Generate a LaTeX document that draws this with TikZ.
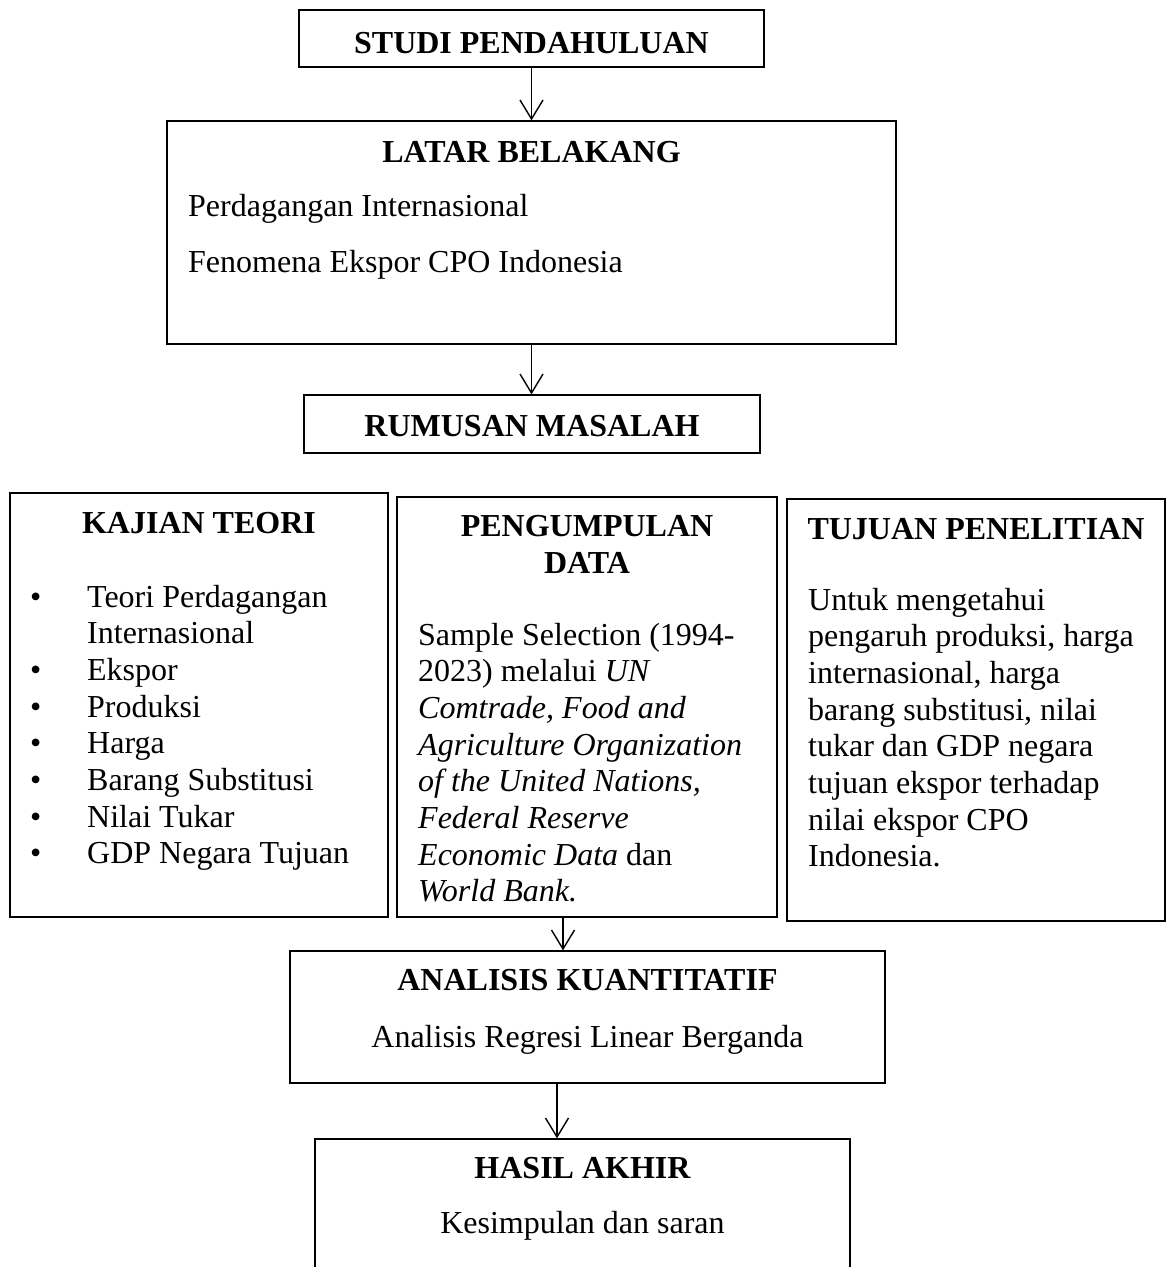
\documentclass[tikz,border=0pt]{standalone}
\usepackage{fontspec}
\setmainfont{Liberation Serif}
\usetikzlibrary{arrows.meta}
\begin{document}
\begin{tikzpicture}[x=1pt,y=-1pt,
  box/.style n args={2}{draw=black, line width=1.3pt, rectangle, inner sep=0pt,
    minimum width=#1, minimum height=#2},
  txt/.style={font=\fontsize{32}{36.7}\selectfont, inner sep=0pt, anchor=base},
  ttl/.style={txt, font=\fontsize{32}{36.7}\selectfont\bfseries},
  lft/.style={txt, anchor=base west},
  arr/.style={line width=1.4pt, -{Straight Barb[length=19pt,width=23pt]}}
]
\useasboundingbox (0,0) rectangle (1167,1267);
\fill[white] (0,0) rectangle (1167,1267);
\clip (0,0) rectangle (1167,1267);

% boxes
\node[box={465pt}{57pt}]  (studi)    at (531.5,38.5) {};
\node[box={729pt}{223pt}] (latar)    at (531.5,232.5) {};
\node[box={456pt}{58pt}]  (rumusan)  at (532,424) {};
\node[box={378pt}{424pt}] (kajian)   at (199,705) {};
\node[box={380pt}{420pt}] (peng)     at (587,707) {};
\node[box={378pt}{422pt}] (tujuan)   at (976,710) {};
\node[box={595pt}{132pt}] (analisis) at (587.5,1017) {};
\node[box={535pt}{161pt}] (hasil)    at (582.5,1219.5) {};

% texts
\node[ttl] (tstudi) at (531.5,53) {STUDI PENDAHULUAN};

\node[ttl] (tlatar) at (531.5,162) {LATAR BELAKANG};
\node[lft] (llatar1) at (188,216) {Perdagangan Internasional};
\node[lft] (llatar2) at (188,272) {Fenomena Ekspor CPO Indonesia};

\node[ttl] (trumusan) at (532,436) {RUMUSAN MASALAH};

\node[ttl] (tkajian) at (199,533) {KAJIAN TEORI};
\node[lft] (lkajian) at (30,607) {\begin{tabular}[t]{@{}l@{}l@{}}
\makebox[57pt][l]{•} & Teori Perdagangan\\
 & Internasional\\
\makebox[57pt][l]{•} & Ekspor\\
\makebox[57pt][l]{•} & Produksi\\
\makebox[57pt][l]{•} & Harga\\
\makebox[57pt][l]{•} & Barang Substitusi\\
\makebox[57pt][l]{•} & Nilai Tukar\\
\makebox[57pt][l]{•} & GDP Negara Tujuan
\end{tabular}};

\node[txt] (tpeng) at (587,536.5) {\bfseries\begin{tabular}[t]{@{}c@{}}PENGUMPULAN\\DATA\end{tabular}};
\node[lft] (lpeng) at (418,645) {\begin{tabular}[t]{@{}l@{}}
Sample Selection (1994-\\
2023) melalui \textit{UN}\\
\textit{Comtrade, Food and}\\
\textit{Agriculture Organization}\\
\textit{of the United Nations,}\\
\textit{Federal Reserve}\\
\textit{Economic Data} dan\\
\textit{World Bank.}
\end{tabular}};

\node[ttl] (ttujuan) at (976,539) {TUJUAN PENELITIAN};
\node[lft] (ltujuan) at (808,610) {\begin{tabular}[t]{@{}l@{}}
Untuk mengetahui\\
pengaruh produksi, harga\\
internasional, harga\\
barang substitusi, nilai\\
tukar dan GDP negara\\
tujuan ekspor terhadap\\
nilai ekspor CPO\\
Indonesia.
\end{tabular}};

\node[ttl] (tanalisis) at (587.5,990) {ANALISIS KUANTITATIF};
\node[txt] (lanalisis) at (587.5,1047) {Analisis Regresi Linear Berganda};

\node[ttl] (thasil) at (582.5,1178) {HASIL AKHIR};
\node[txt] (lhasil) at (582.5,1233) {Kesimpulan dan saran};

% connectors
\draw[arr] (studi.south) -- (studi.south |- latar.north);
\draw[arr] (latar.south) -- (latar.south |- rumusan.north);
\draw[arr] ([xshift=-24pt]peng.south) -- ([xshift=-24pt]peng.south |- analisis.north);
\draw[arr] ([xshift=-30.5pt]analisis.south) -- ([xshift=-30.5pt]analisis.south |- hasil.north);
\end{tikzpicture}
\end{document}
